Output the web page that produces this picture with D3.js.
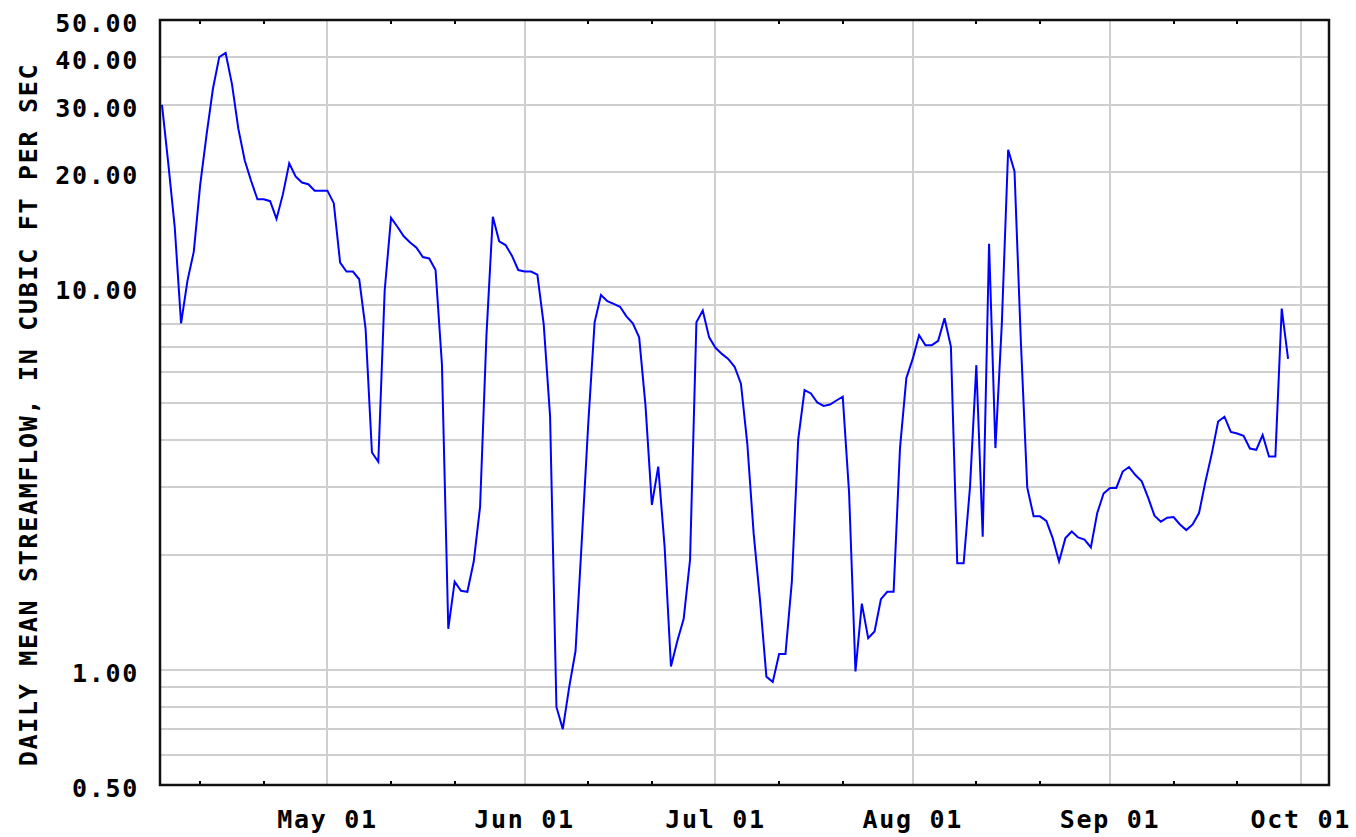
<!DOCTYPE html>
<html>
<head>
<meta charset="utf-8">
<script src="https://cdn.jsdelivr.net/npm/d3@7"></script>
<style>
  html, body { margin: 0; padding: 0; background: #fff; }
  text {
    font-family: "DejaVu Sans Mono", monospace;
    font-weight: bold;
    font-size: 25px;
    letter-spacing: 1.7px;
    fill: #000;
  }
</style>
</head>
<body>
<div id="chart"></div>
<script>
// daily mean streamflow (cfs), one value per day starting Apr 05
var firstDay = "2007-04-05";
var aprFlow = [30, 21, 14.4, 8.05, 10.4, 12.4, 18.5, 25, 33, 40, 41, 34, 26, 21.5, 19, 17, 17, 16.8, 15.1, 17.5, 21.1, 19.5, 18.8, 18.6, 17.9, 17.9];
var mayFlow = [17.9, 16.6, 11.6, 11.0, 11.0, 10.5, 7.8, 3.7, 3.5, 9.8, 15.2, 14.4, 13.6, 13.1, 12.7, 12.0, 11.9, 11.1, 6.3, 1.28, 1.7, 1.61, 1.6, 1.92, 2.67, 7.5, 15.3, 13.2, 12.9, 12.1, 11.1];
var junFlow = [11.0, 11.0, 10.8, 8.0, 4.6, 0.80, 0.70, 0.90, 1.12, 2.2, 4.4, 8.1, 9.55, 9.2, 9.05, 8.9, 8.4, 8.05, 7.4, 4.9, 2.7, 3.4, 2.1, 1.02, 1.19, 1.36, 1.94, 8.1, 8.7, 7.4];
var julFlow = [6.95, 6.7, 6.5, 6.2, 5.6, 3.9, 2.27, 1.52, 0.96, 0.93, 1.1, 1.1, 1.7, 4.0, 5.39, 5.28, 5.0, 4.9, 4.94, 5.06, 5.18, 2.9, 0.99, 1.49, 1.21, 1.26, 1.53, 1.6, 1.6, 3.8, 5.8];
var augFlow = [6.5, 7.5, 7.06, 7.06, 7.25, 8.3, 7.0, 1.9, 1.9, 3.0, 6.26, 2.23, 13.0, 3.8, 8.0, 22.9, 20.1, 7.2, 3.0, 2.52, 2.52, 2.45, 2.21, 1.92, 2.21, 2.3, 2.22, 2.19, 2.09, 2.57, 2.89];
var sepFlow = [2.99, 2.99, 3.3, 3.39, 3.23, 3.11, 2.82, 2.53, 2.44, 2.5, 2.51, 2.4, 2.32, 2.4, 2.57, 3.1, 3.67, 4.46, 4.59, 4.19, 4.15, 4.09, 3.79, 3.76, 4.11, 3.61, 3.61, 8.8, 6.5];

var yLabels = [0.5, 1, 10, 20, 30, 40, 50];
var monthTicks = ["2007-05-01", "2007-06-01", "2007-07-01", "2007-08-01", "2007-09-01", "2007-10-01"];
var minorTickDays = [11, 21];
var yTitle = "DAILY MEAN STREAMFLOW, IN CUBIC FT PER SEC";

var width = 1356, height = 837;
var plot = { left: 160, right: 1329, top: 20, bottom: 785 };

var parse = d3.utcParse("%Y-%m-%d");
var flows = [].concat(aprFlow, mayFlow, junFlow, julFlow, augFlow, sepFlow);
var data = flows.map(function (v, i) {
  return { date: d3.utcDay.offset(parse(firstDay), i), value: v };
});

var svg = d3.select("#chart").append("svg")
  .attr("width", width)
  .attr("height", height)
  .style("display", "block");

svg.append("rect").attr("width", width).attr("height", height).attr("fill", "#fff");

var x = d3.scaleUtc()
  .domain([new Date(Date.UTC(2007, 3, 4, 16, 30)), new Date(Date.UTC(2007, 9, 5, 10, 20))])
  .range([plot.left, plot.right]);

var y = d3.scaleLog()
  .domain([0.5, 50])
  .range([plot.bottom, plot.top]);

// horizontal grid (every log tick)
svg.append("g")
  .selectAll("line")
  .data(y.ticks())
  .enter().append("line")
  .attr("x1", plot.left).attr("x2", plot.right)
  .attr("y1", function (d) { return Math.round(y(d)); })
  .attr("y2", function (d) { return Math.round(y(d)); })
  .attr("stroke", "#cfcfcf")
  .attr("stroke-width", 2)
  .attr("shape-rendering", "crispEdges");

// vertical grid at month starts
var months = monthTicks.map(parse);
svg.append("g")
  .selectAll("line")
  .data(months)
  .enter().append("line")
  .attr("x1", function (d) { return Math.round(x(d)); })
  .attr("x2", function (d) { return Math.round(x(d)); })
  .attr("y1", plot.top).attr("y2", plot.bottom)
  .attr("stroke", "#cfcfcf")
  .attr("stroke-width", 2)
  .attr("shape-rendering", "crispEdges");

// minor ticks on 11th and 21st, top and bottom, pointing inward
var minor = [];
d3.utcMonth.range(parse("2007-04-01"), parse("2007-10-01")).forEach(function (m) {
  minorTickDays.forEach(function (d) { minor.push(d3.utcDay.offset(m, d - 1)); });
});
var tickG = svg.append("g").attr("stroke", "#000").attr("stroke-width", 2).attr("shape-rendering", "crispEdges");
tickG.selectAll(".tb").data(minor).enter().append("line")
  .attr("x1", function (d) { return Math.round(x(d)); })
  .attr("x2", function (d) { return Math.round(x(d)); })
  .attr("y1", plot.bottom).attr("y2", plot.bottom - 4);
tickG.selectAll(".tt").data(minor).enter().append("line")
  .attr("x1", function (d) { return Math.round(x(d)); })
  .attr("x2", function (d) { return Math.round(x(d)); })
  .attr("y1", plot.top).attr("y2", plot.top + 4);

// streamflow line
var line = d3.line()
  .x(function (d) { return x(d.date); })
  .y(function (d) { return y(d.value); });

svg.append("path")
  .datum(data)
  .attr("fill", "none")
  .attr("stroke", "#0000ff")
  .attr("stroke-width", 2)
  .attr("stroke-linejoin", "miter")
  .attr("d", line);

// frame
svg.append("rect")
  .attr("x", plot.left).attr("y", plot.top)
  .attr("width", plot.right - plot.left)
  .attr("height", plot.bottom - plot.top)
  .attr("fill", "none")
  .attr("stroke", "#111")
  .attr("stroke-width", 2.5);

// y labels
svg.append("g")
  .selectAll("text")
  .data(yLabels)
  .enter().append("text")
  .attr("x", 139)
  .attr("y", function (d) { return y(d) + 12; })
  .attr("text-anchor", "end")
  .text(d3.format(".2f"));

// x labels
var fmt = d3.utcFormat("%b %d");
svg.append("g")
  .selectAll("text")
  .data(months)
  .enter().append("text")
  .attr("x", function (d) { return x(d); })
  .attr("y", 828)
  .attr("text-anchor", "middle")
  .text(fmt);

// y axis title
svg.append("text")
  .attr("transform", "translate(37," + ((plot.top + plot.bottom) / 2 + 12) + ") rotate(-90)")
  .attr("text-anchor", "middle")
  .text(yTitle);
</script>
</body>
</html>
